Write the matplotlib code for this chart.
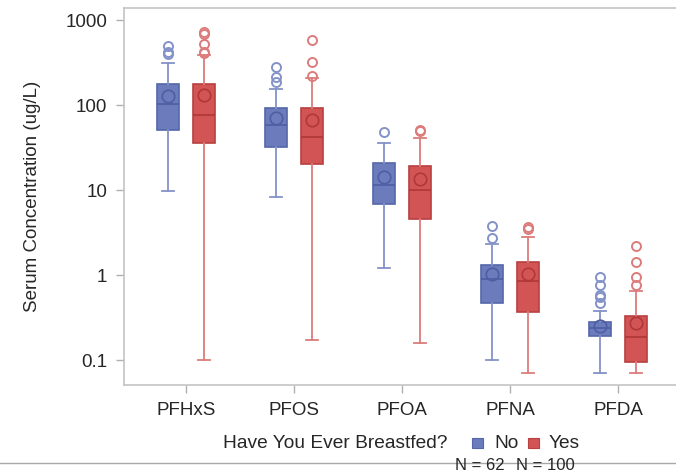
import matplotlib
matplotlib.use("Agg")
import matplotlib.pyplot as plt
from matplotlib.lines import Line2D
from matplotlib.patches import Rectangle
from matplotlib.ticker import FixedLocator, NullLocator

plt.rcParams['font.family'] = ['Liberation Sans', 'DejaVu Sans']

categories = ["PFHxS", "PFOS", "PFOA", "PFNA", "PFDA"]

no_whislo = [9.8, 8.3, 1.22, 0.1, 0.07]
no_q1 = [51, 32, 6.9, 0.47, 0.19]
no_med = [102, 58, 11.5, 0.90, 0.24]
no_q3 = [178, 93, 21, 1.32, 0.28]
no_whishi = [315, 153, 36, 2.3, 0.38]
no_mean = [128, 70, 14.3, 1.03, 0.25]
no_fliers = [[400, 420, 494], [185, 212, 283], [48], [2.7, 3.76],
             [0.47, 0.55, 0.58, 0.76, 0.96]]

yes_whislo = [0.1, 0.17, 0.16, 0.07, 0.07]
yes_q1 = [36, 20.4, 4.5, 0.37, 0.094]
yes_med = [76, 42, 10, 0.855, 0.186]
yes_q3 = [177, 93, 19.1, 1.43, 0.33]
yes_whishi = [387, 210, 40.5, 2.78, 0.65]
yes_mean = [131, 67, 13.4, 1.02, 0.275]
yes_fliers = [[410, 420, 522, 690, 716], [221, 320, 577], [49, 50.5],
              [3.5, 3.65], [0.77, 0.955, 1.44, 2.2]]

y_ticks = [0.1, 1, 10, 100, 1000]
y_ticklabels = ["0.1", "1", "10", "100", "1000"]
group_labels = ["No", "Yes"]
group_n = ["N = 62", "N = 100"]

W, H = 676, 472
fig = plt.figure(figsize=(W / 100, H / 100), dpi=100)
ax = fig.add_axes([124 / W, 1 - 385 / H, (676 - 124) / W, (385 - 8) / H])

def stats(whislo, q1, med, q3, whishi, mean, fliers):
    return [dict(whislo=a, q1=b, med=c, q3=d, whishi=e, mean=f, fliers=g)
            for a, b, c, d, e, f, g in zip(whislo, q1, med, q3, whishi, mean, fliers)]

groups = [
    (stats(no_whislo, no_q1, no_med, no_q3, no_whishi, no_mean, no_fliers),
     -0.167, "#6b7bbb", "#5566aa", "#8392c8", "#4d5ea3"),
    (stats(yes_whislo, yes_q1, yes_med, yes_q3, yes_whishi, yes_mean, yes_fliers),
     0.167, "#d25454", "#b94040", "#dc7c7c", "#b03838"),
]

for st, off, fill, edge, whisk, dark in groups:
    pos = [i + off for i in range(len(categories))]
    ax.bxp(st, positions=pos, widths=0.21, capwidths=0.11, patch_artist=True,
           showmeans=True, meanline=False,
           boxprops=dict(facecolor=fill, edgecolor=edge, linewidth=1.2),
           medianprops=dict(color=dark, linewidth=1.2),
           whiskerprops=dict(color=whisk, linewidth=1.3),
           capprops=dict(color=whisk, linewidth=1.3),
           flierprops=dict(marker='o', markerfacecolor='none', markeredgecolor=whisk,
                           markersize=6.5, markeredgewidth=1.4),
           meanprops=dict(marker='o', markerfacecolor='none', markeredgecolor=dark,
                          markersize=9, markeredgewidth=1.2))

ax.set_yscale('log')
ax.set_ylim(10 ** (3 - 365 / 85), 10 ** (3 + 12 / 85))
ax.set_xlim((124 - 186) / 108, (676 - 186) / 108)
ax.yaxis.set_major_locator(FixedLocator(y_ticks))
ax.yaxis.set_minor_locator(NullLocator())
ax.set_yticklabels(y_ticklabels)
ax.set_xticks(range(len(categories)))
ax.set_xticklabels(categories)

for s in ['top', 'left', 'bottom']:
    ax.spines[s].set_color('#c4c4c4')
    ax.spines[s].set_linewidth(1.2)
ax.spines['right'].set_visible(False)
ax.tick_params(axis='both', length=6, width=1, color='#b0b0b0',
               labelsize=13.5, labelcolor='#262626', pad=6)

ax.set_ylabel("Serum Concentration (ug/L)", fontsize=13.5, color='#262626')
ax.yaxis.set_label_coords((41 - 124) / (676 - 124), 0.5)

# legend
ly = 1 - 443 / H
fig.text(223 / W, ly, "Have You Ever Breastfed?", fontsize=13.8, color='#262626',
         ha='left', va='center')
sq = [(472, "#6b7bbb", "#5566aa"), (528, "#d25454", "#b94040")]
txt_x = [494, 549]
n_x = [480, 545]
for (x0, fc, ec), tx, nx, lab, n in zip(sq, txt_x, n_x, group_labels, group_n):
    fig.add_artist(Rectangle((x0 / W, 1 - 448 / H), 11 / W, 10 / H,
                             transform=fig.transFigure, facecolor=fc, edgecolor=ec, lw=0.8))
    fig.text(tx / W, ly, lab, fontsize=13.8, color='#262626', ha='left', va='center')
    fig.text(nx / W, 1 - 465 / H, n, fontsize=12, color='#262626', ha='center', va='center')

fig.add_artist(Line2D([0, 1], [1 - 463 / H, 1 - 463 / H], transform=fig.transFigure,
                      color='#a8a8a8', lw=1))

fig.savefig("out.png", dpi=100)
